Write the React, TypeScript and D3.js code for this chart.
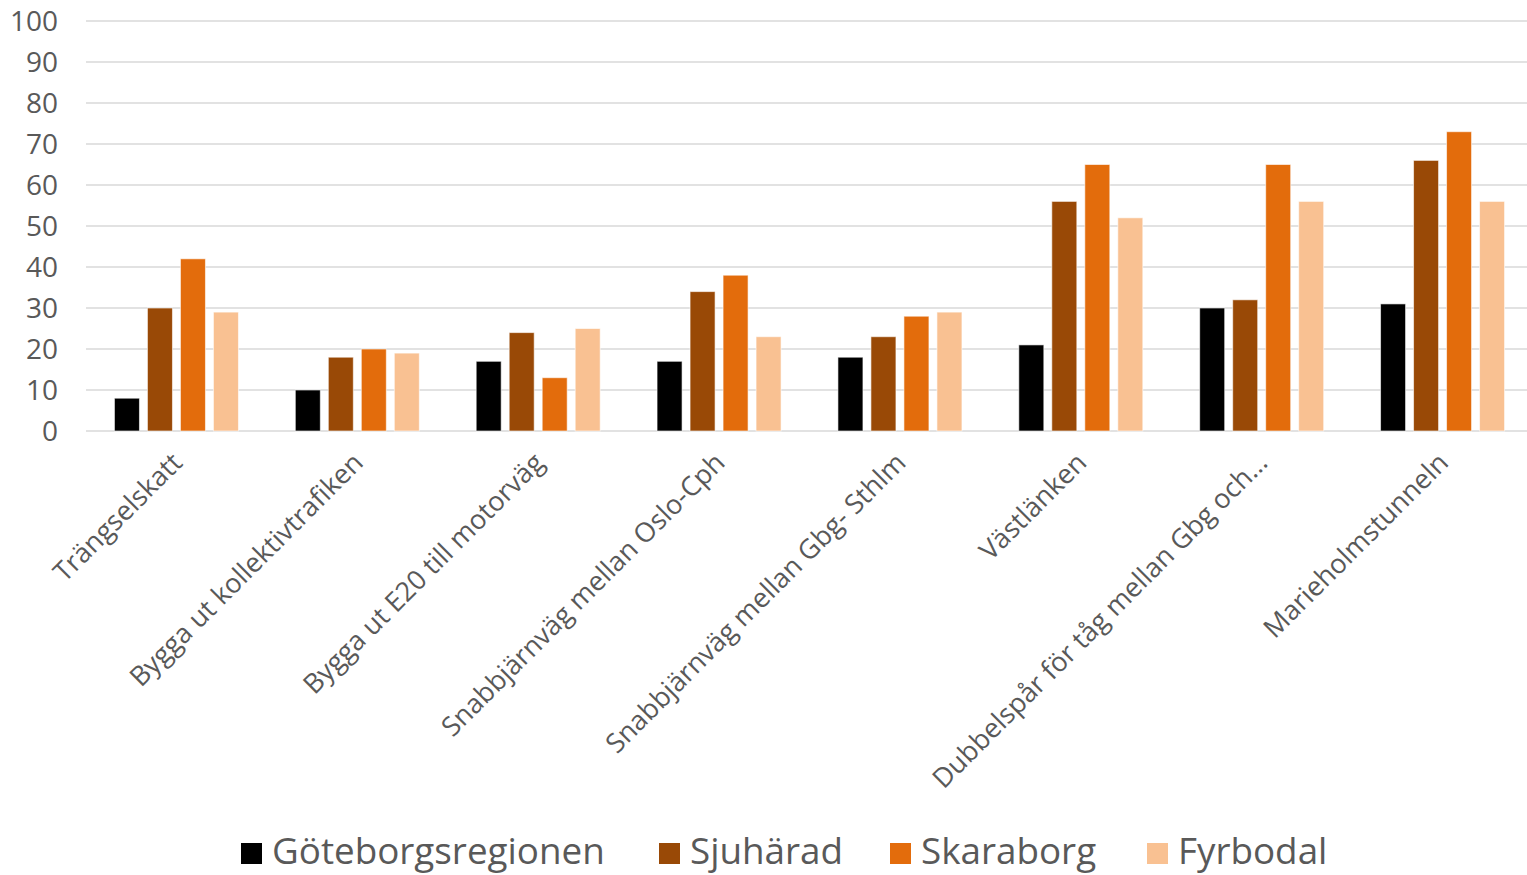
import React from 'react';
import { scaleBand, scaleLinear } from 'd3';

const categories = [
  'Trängselskatt',
  'Bygga ut kollektivtrafiken',
  'Bygga ut E20 till motorväg',
  'Snabbjärnväg mellan Oslo-Cph',
  'Snabbjärnväg mellan Gbg- Sthlm',
  'Västlänken',
  'Dubbelspår för tåg mellan Gbg och…',
  'Marieholmstunneln',
];
const seriesNames = ['Göteborgsregionen', 'Sjuhärad', 'Skaraborg', 'Fyrbodal'];
const goteborg = [8, 10, 17, 17, 18, 21, 30, 31];
const sjuharad = [30, 18, 24, 34, 23, 56, 32, 66];
const skaraborg = [42, 20, 13, 38, 28, 65, 65, 73];
const fyrbodal = [29, 19, 25, 23, 29, 52, 56, 56];
const yTicks = [0, 10, 20, 30, 40, 50, 60, 70, 80, 90, 100];

const colors = ['#000000', '#994906', '#e36c0c', '#f9c192'];
const series = [goteborg, sjuharad, skaraborg, fyrbodal];

const W = 1527;
const H = 875;
const m = { left: 86, top: 21 };
const font = "'Open Sans', 'Noto Sans', sans-serif";

export default function App() {
  // category bands run a little past the right edge, as in the original
  const x = scaleBand<string>().domain(categories).range([m.left, 1533]).paddingInner(0).paddingOuter(0);
  const inner = scaleBand<number>().domain([0, 1, 2, 3]).range([0, 132]).paddingInner(0.242).paddingOuter(0.121);
  const y = scaleLinear().domain([0, 100]).range([431, m.top]);
  const bw = inner.bandwidth();
  const legendX = [241, 659, 890, 1147];

  return (
    <div style={{ position: 'fixed', left: 0, top: 0, width: W, height: H, background: '#fff' }}>
      <svg width={W} height={H} style={{ display: 'block' }} fontFamily={font}>
        {yTicks.map((t) => (
          <g key={t}>
            <line x1={m.left} x2={W} y1={y(t)} y2={y(t)} stroke="#d9d9d9" strokeWidth={1.5} />
            <text x={58} y={y(t)} dy="0.36em" textAnchor="end" fontSize={28} fill="#595959">
              {t}
            </text>
          </g>
        ))}
        {categories.map((c, i) => {
          const gx = x(c)! + (x.bandwidth() - 132) / 2;
          return (
            <g key={c}>
              {series.map((s, k) => (
                <rect
                  key={k}
                  x={gx + inner(k)!}
                  y={y(s[i])}
                  width={bw}
                  height={y(0) - y(s[i])}
                  fill={colors[k]}
                  stroke="#ffffff"
                  strokeOpacity={0.6}
                  strokeWidth={1}
                />
              ))}
              <text
                transform={`translate(${x(c)! + x.bandwidth() / 2 - 6},${451}) rotate(-45)`}
                textAnchor="end"
                dy="0.7em"
                fontSize={27}
                fill="#595959"
              >
                {c}
              </text>
            </g>
          );
        })}
        {seriesNames.map((n, k) => (
          <g key={n} transform={`translate(${legendX[k]},0)`}>
            <rect x={0} y={843} width={21} height={21} fill={colors[k]} />
            <text x={31} y={851} dy="0.36em" fontSize={36.8} fill="#595959">
              {n}
            </text>
          </g>
        ))}
      </svg>
    </div>
  );
}
